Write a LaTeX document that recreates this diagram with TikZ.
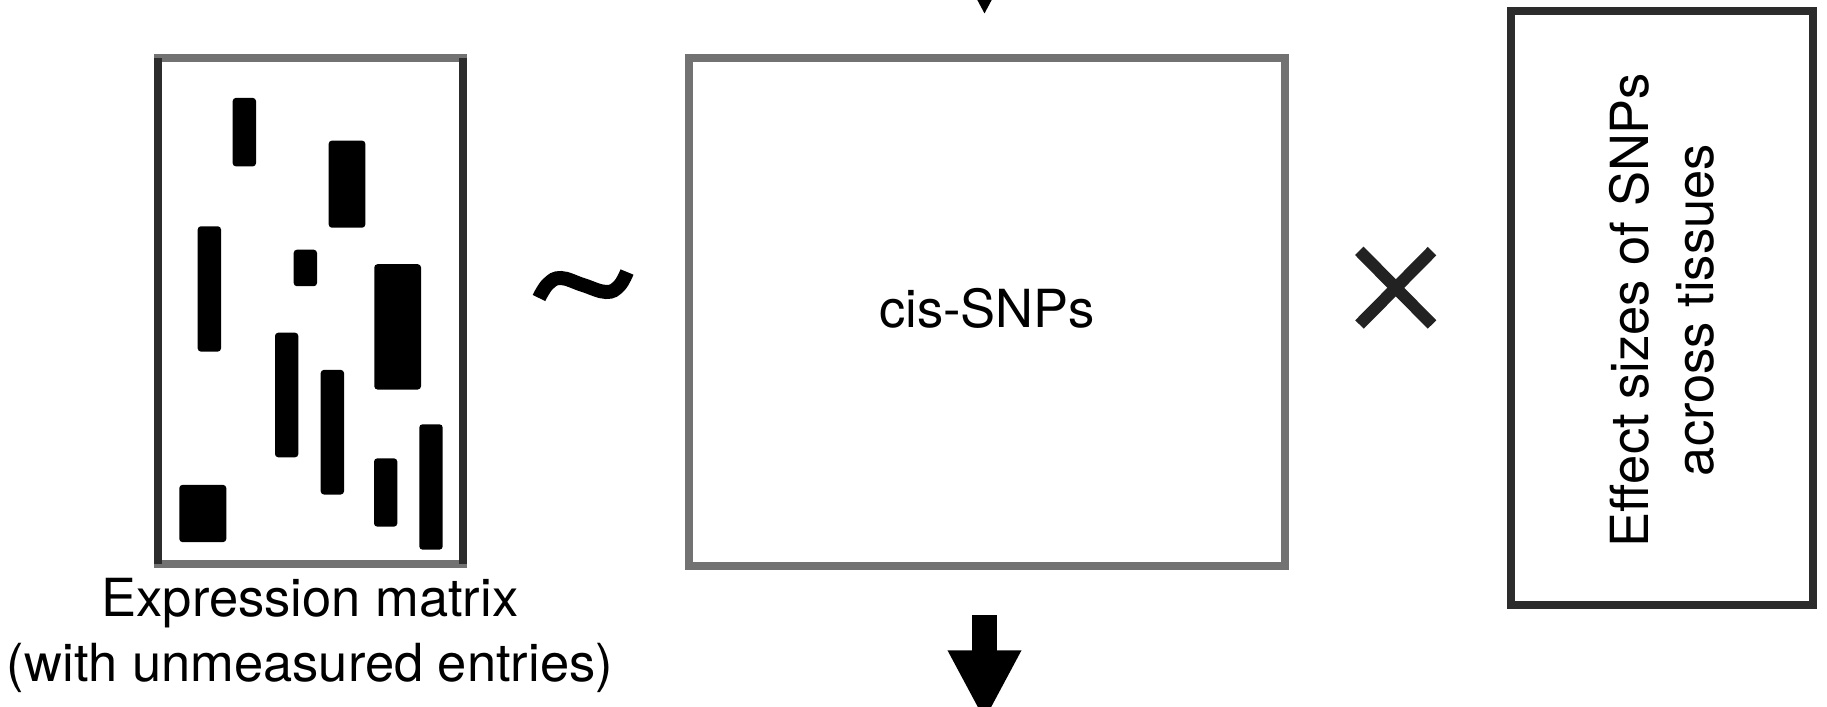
\documentclass[tikz,border=0pt]{standalone}
\usepackage{fontspec}
\setmainfont{TeX Gyre Heros}
\usetikzlibrary{arrows.meta}
\definecolor{framegray}{HTML}{727272}
\definecolor{framedark}{HTML}{2C2C2C}
\definecolor{crossgray}{HTML}{222222}
\begin{document}
\begin{tikzpicture}[x=0.5pt,y=-0.5pt,
  panel/.style={rectangle, draw=#1, line width=4pt, fill=white, inner sep=0pt, outer sep=0pt},
  blk/.style={fill=black, rounded corners=1.6pt},
  bigarrow/.style={draw=black, line width=12.65pt, -{Triangle[width=34.2pt,length=35.35pt]}},
  lbl/.style={font=\fontsize{26.25}{32.5}\selectfont, inner sep=0pt, text=black},
  opstroke/.style={line width=6pt, line cap=butt}]
\path[use as bounding box, clip] (0,0) rectangle (1827,707);
\fill[white] (0,0) rectangle (1827,707);

% expression matrix
\node[panel=framegray, minimum width=152.35pt, minimum height=253.15pt] (expr) at (310.35,311.15) {};
\draw[framedark, line width=4pt] (expr.north west) -- (expr.south west);
\draw[framedark, line width=4pt] (expr.north east) -- (expr.south east);
\fill[blk] (232.7,97.9) rectangle (256,166.4);
\fill[blk] (328.7,140.6) rectangle (365.3,227.7);
\fill[blk] (197.7,226.3) rectangle (221,351.6);
\fill[blk] (293.7,249.7) rectangle (317,286.2);
\fill[blk] (374.3,264.2) rectangle (421,389.5);
\fill[blk] (275,332.7) rectangle (298.3,457.3);
\fill[blk] (320.7,369.9) rectangle (344,494.5);
\fill[blk] (179.3,484.9) rectangle (226.3,542.1);
\fill[blk] (374,458.4) rectangle (397.3,526.6);
\fill[blk] (419.3,424.3) rectangle (442.7,549.6);
\node[lbl, anchor=base] (exprlabel) at (310,616.7)
  {\begin{tabular}[t]{@{}c@{}}Expression matrix\\(with unmeasured entries)\end{tabular}};

% tilde
\draw[opstroke, line width=7pt] plot[smooth, tension=0.7] coordinates {(539,298) (548,284) (561,278) (583,285) (606,292) (619,286) (627,272)};

% cis-SNPs
\node[panel=framegray, minimum width=298pt, minimum height=254pt] (cis) at (987,312) {};
\node[lbl, anchor=base] (cislabel) at (987,327) {cis-SNPs};

% times
\draw[opstroke, crossgray] (1359.3,250.8) -- (1432,324.5);
\draw[opstroke, crossgray] (1432,251.2) -- (1359.5,324.5);

% effect sizes
\node[panel=framedark, minimum width=151pt, minimum height=297pt] (eff) at (1662,308) {};
\node[lbl, anchor=base, rotate=90] (efflabel) at (1648.3,310)
  {\begin{tabular}[t]{@{}c@{}}Effect sizes of SNPs\\across tissues\end{tabular}};

% arrows
\coordinate (topfrom) at (984.5,-90);
\coordinate (topto) at (984.5,15);
\coordinate (botfrom) at (984.5,615);
\coordinate (botto) at (984.5,721);
\draw[bigarrow] (topfrom) -- (topto);
\draw[bigarrow] (botfrom) -- (botto);
\end{tikzpicture}
\end{document}
